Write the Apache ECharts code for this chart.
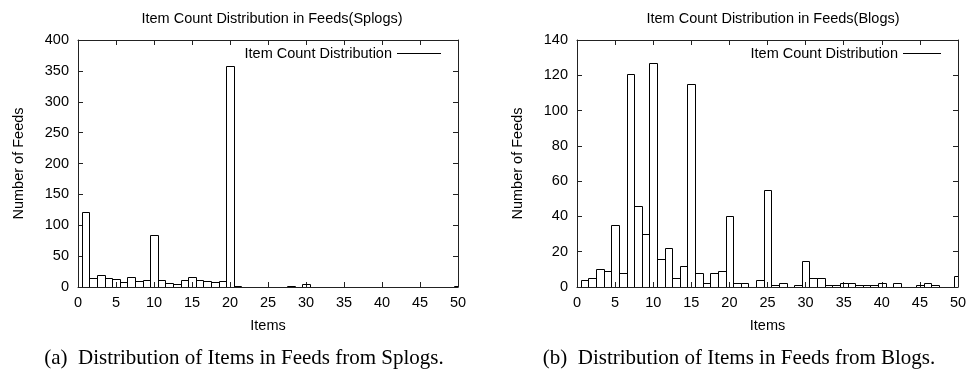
<!DOCTYPE html>
<html>
<head>
<meta charset="utf-8">
<script src="https://cdn.jsdelivr.net/npm/echarts@6/dist/echarts.min.js"></script>
<style>
  html, body { margin: 0; padding: 0; background: #fff; }
  #chart { width: 970px; height: 369px; }
</style>
</head>
<body>
<div id="chart"></div>
<script>
// Item counts 0..50 per feed
const items = Array.from({ length: 51 }, (_, i) => i);

const splogCounts = [
  0, 122, 15, 20, 14, 13, 8, 16, 10, 12,
  85, 12, 6, 5, 11, 16, 11, 10, 8, 10,
  358, 1, 0, 0, 0, 0, 0, 0, 1, 0,
  5, 0, 0, 0, 0, 0, 0, 0, 0, 0,
  0, 0, 0, 0, 0, 0, 0, 0, 0, 0,
  2
];

const blogCounts = [
  0, 4, 5, 10, 9, 35, 8, 121, 46, 30,
  127, 16, 22, 5, 12, 115, 8, 2, 8, 9,
  40, 2, 2, 0, 4, 55, 1, 2, 0, 1,
  15, 5, 5, 1, 1, 2, 2, 1, 1, 1,
  2, 0, 2, 0, 0, 1, 2, 1, 0, 0,
  6
];

const xTicks = { min: 0, max: 50, interval: 5 };
const splogY = { min: 0, max: 400, interval: 50 };
const blogY = { min: 0, max: 140, interval: 20 };

const panelTitles = ['Item Count Distribution in Feeds(Splogs)', 'Item Count Distribution in Feeds(Blogs)'];
const captions = ['(a)\u2002Distribution of Items in Feeds from Splogs.', '(b)\u2002Distribution of Items in Feeds from Blogs.'];
const seriesName = 'Item Count Distribution';

const SANS = '"Liberation Sans", Arial, Helvetica, sans-serif';
const SERIF = '"Liberation Serif", "Times New Roman", serif';
const FS = 14.5;
const INK = '#000';
const FRAME = '#222';

const grids = [
  { left: 78, top: 40, width: 380, height: 247 },
  { left: 577, top: 40, width: 381, height: 247 }
];

function xAxes(gi) {
  const base = {
    type: 'value', gridIndex: gi, min: xTicks.min, max: xTicks.max, interval: xTicks.interval,
    splitLine: { show: false },
    axisLine: { show: true, onZero: false, lineStyle: { color: FRAME, width: 1 } },
    axisTick: { show: true, inside: true, length: 5, lineStyle: { color: FRAME } }
  };
  return [
    Object.assign({}, base, {
      position: 'bottom',
      name: 'Items', nameLocation: 'middle', nameGap: 31,
      nameTextStyle: { fontFamily: SANS, fontSize: FS, color: INK },
      axisLabel: { show: true, margin: 8, fontFamily: SANS, fontSize: FS, color: INK }
    }),
    Object.assign({}, base, { position: 'top', axisLabel: { show: false } })
  ];
}

function yAxes(gi, range) {
  const base = {
    type: 'value', gridIndex: gi, min: range.min, max: range.max, interval: range.interval,
    splitLine: { show: false },
    axisLine: { show: true, onZero: false, lineStyle: { color: FRAME, width: 1 } },
    axisTick: { show: true, inside: true, length: 5, lineStyle: { color: FRAME } }
  };
  return [
    Object.assign({}, base, {
      position: 'left',
      name: 'Number of Feeds', nameLocation: 'middle', nameGap: 52, nameRotate: 90,
      nameTextStyle: { fontFamily: SANS, fontSize: FS, color: INK },
      axisLabel: { show: true, margin: 9, fontFamily: SANS, fontSize: FS, color: INK }
    }),
    Object.assign({}, base, { position: 'right', axisLabel: { show: false } })
  ];
}

// Boxes centred on each item count, one unit wide, outlined only
function boxes(params, api) {
  const x = api.value(0);
  const y = api.value(1);
  const topLeft = api.coord([x - 0.5, y]);
  const bottomRight = api.coord([x + 0.5, 0]);
  return {
    type: 'rect',
    shape: {
      x: Math.round(topLeft[0]) + 0.5,
      y: Math.round(topLeft[1]) + 0.5,
      width: Math.round(bottomRight[0]) - Math.round(topLeft[0]),
      height: Math.round(bottomRight[1]) - Math.round(topLeft[1])
    },
    style: { fill: 'rgba(0,0,0,0)', stroke: INK, lineWidth: 1 }
  };
}

function pairs(values) {
  return items.map((x, i) => [x, values[i]]);
}

const legendBase = {
  top: 46, padding: 0, align: 'right', itemHeight: 1, itemGap: 0, selectedMode: false,
  icon: 'rect',
  data: [{ name: seriesName, itemStyle: { color: INK } }],
  textStyle: { fontFamily: SANS, fontSize: FS, color: INK, padding: [0, 0, 0, 0] }
};

const option = {
  backgroundColor: '#fff',
  animation: false,
  title: [
    { text: panelTitles[0], left: 267, top: 6, textAlign: 'center',
      textStyle: { fontFamily: SANS, fontSize: FS, fontWeight: 'normal', color: INK } },
    { text: panelTitles[1], left: 768, top: 6, textAlign: 'center',
      textStyle: { fontFamily: SANS, fontSize: FS, fontWeight: 'normal', color: INK } },
    { text: captions[0], left: 239, top: 343, textAlign: 'center',
      textStyle: { fontFamily: SERIF, fontSize: 21, fontWeight: 'normal', color: INK } },
    { text: captions[1], left: 734, top: 343, textAlign: 'center',
      textStyle: { fontFamily: SERIF, fontSize: 21, fontWeight: 'normal', color: INK } }
  ],
  legend: [
    Object.assign({}, legendBase, { right: 529, itemWidth: 44 }),
    Object.assign({}, legendBase, { right: 29, itemWidth: 38 })
  ],
  grid: grids,
  xAxis: xAxes(0).concat(xAxes(1)),
  yAxis: yAxes(0, splogY).concat(yAxes(1, blogY)),
  series: [
    { name: seriesName, type: 'custom', xAxisIndex: 0, yAxisIndex: 0, clip: true,
      renderItem: boxes, data: pairs(splogCounts) },
    { name: seriesName, type: 'custom', xAxisIndex: 2, yAxisIndex: 2, clip: true,
      renderItem: boxes, data: pairs(blogCounts) }
  ]
};

const chart = echarts.init(document.getElementById('chart'), null, { renderer: 'canvas' });
chart.setOption(option);
</script>
</body>
</html>
